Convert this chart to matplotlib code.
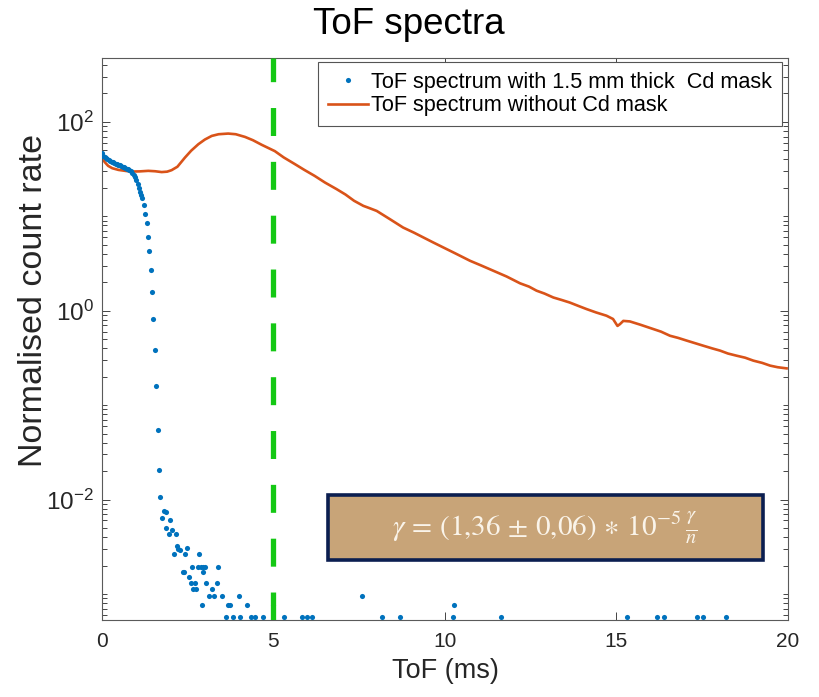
import matplotlib
matplotlib.use("Agg")
import matplotlib.pyplot as plt
from matplotlib.ticker import FixedLocator, FixedFormatter, LogLocator, NullFormatter
from matplotlib.patches import Rectangle

plt.rcParams['font.family'] = ['Liberation Sans', 'DejaVu Sans']

# ---------------- data ----------------
# ToF spectrum without Cd mask (orange line)
tof_nomask = [0.00, 0.08, 0.18, 0.30, 0.48, 0.70, 0.87, 1.10, 1.35, 1.55, 1.74, 1.90,
              2.03, 2.20, 2.42, 2.60, 2.81, 3.00, 3.20, 3.40, 3.68, 3.90, 4.17, 4.40,
              4.66, 5.04, 5.30, 5.63, 5.90, 6.20, 6.50, 6.84, 7.10, 7.35, 7.62, 7.80,
              8.01, 8.40, 8.78, 9.10, 9.37, 9.65, 9.95, 10.30, 10.73, 11.05, 11.41,
              11.80, 12.19, 12.45, 12.67, 12.90, 13.16, 13.40, 13.64, 13.90, 14.13,
              14.40, 14.71, 14.90, 15.03, 15.10, 15.20, 15.39, 15.70, 16.07, 16.30,
              16.56, 16.80, 17.05, 17.30, 17.53, 17.80, 18.02, 18.25, 18.50, 18.75,
              18.99, 19.25, 19.48, 19.70, 19.96]
rate_nomask = [42.0, 37.5, 34.2, 32.3, 31.0, 30.2, 29.8, 29.9, 30.3, 30.0, 29.4, 29.7,
               30.8, 33.5, 41.9, 49.5, 58.0, 65.0, 71.0, 74.0, 75.2, 74.0, 69.3, 64.0,
               57.1, 49.0, 42.0, 35.6, 31.0, 26.8, 22.8, 19.4, 17.0, 14.6, 12.9, 12.2,
               11.4, 9.3, 7.6, 6.7, 5.97, 5.30, 4.68, 4.05, 3.38, 3.02, 2.65,
               2.30, 1.95, 1.80, 1.63, 1.52, 1.38, 1.30, 1.22, 1.12, 1.04,
               0.96, 0.885, 0.817, 0.69, 0.72, 0.78, 0.77, 0.71, 0.64, 0.60,
               0.543, 0.515, 0.482, 0.452, 0.426, 0.398, 0.378, 0.352, 0.334, 0.318,
               0.296, 0.280, 0.262, 0.252, 0.245]

# ToF spectrum with 1.5 mm thick Cd mask (blue dots)
tof_mask = [0.00, 0.04, 0.08, 0.12, 0.16, 0.20, 0.24, 0.28, 0.32, 0.36, 0.40, 0.44,
            0.48, 0.52, 0.56, 0.60, 0.64, 0.68, 0.72, 0.76, 0.80, 0.84, 0.88, 0.92,
            0.96, 1.00, 1.04, 1.08, 1.11, 1.14, 1.18, 1.22, 1.26, 1.30, 1.34, 1.38,
            1.42, 1.46, 1.50, 1.55, 1.58, 1.62, 1.66, 1.70,
            1.75, 1.81, 1.87, 1.98, 1.87, 1.94, 2.05, 2.15, 2.18, 2.23, 2.27, 2.11,
            2.43, 2.49, 2.82, 2.35, 2.40, 2.63, 2.79, 2.89, 2.95, 3.00, 2.94, 3.38,
            2.54, 2.59, 2.71, 3.03, 3.34, 2.66, 2.74, 3.20, 3.11, 3.27, 3.51, 3.99,
            2.92, 3.66, 3.73, 4.23, 5.00, 3.62, 3.83, 4.03, 4.35, 4.46, 4.69, 5.31,
            5.82, 5.99, 6.13, 7.57, 8.16, 8.68, 10.22, 10.25, 11.64, 15.30, 16.17,
            16.39, 17.35, 17.51, 18.18]
rate_mask = [46.5, 44.0, 42.5, 41.3, 40.3, 39.4, 38.6, 37.9, 37.3, 36.7, 36.1, 35.6,
             35.1, 34.6, 34.1, 33.6, 33.1, 32.6, 32.0, 31.4, 30.8, 30.0, 29.0, 27.6,
             25.9, 24.0, 21.8, 19.7, 17.9, 16.7, 15.6, 13.2, 10.7, 8.4, 6.07, 4.25,
             2.72, 1.58, 0.823, 0.380, 0.158, 0.0551, 0.0206, 0.01075,
             6.3e-3, 7.5e-3, 7.3e-3, 6.0e-3, 5.0e-3, 4.3e-3, 4.7e-3, 4.3e-3, 3.2e-3, 3.0e-3, 2.9e-3, 2.64e-3,
             2.66e-3, 3.05e-3, 2.66e-3, 1.70e-3, 1.70e-3, 1.92e-3, 1.92e-3, 1.92e-3, 1.92e-3, 1.92e-3, 1.70e-3, 1.92e-3,
             1.52e-3, 1.32e-3, 1.32e-3, 1.32e-3, 1.32e-3, 1.14e-3, 1.14e-3, 1.14e-3, 9.5e-4, 9.5e-4, 9.5e-4, 9.5e-4,
             7.6e-4, 7.6e-4, 7.6e-4, 7.6e-4, 7.6e-4, 5.7e-4, 5.7e-4, 5.7e-4, 5.7e-4, 5.7e-4, 5.7e-4, 5.7e-4,
             5.7e-4, 5.7e-4, 5.7e-4, 9.5e-4, 5.7e-4, 5.7e-4, 5.7e-4, 7.6e-4, 5.7e-4, 5.7e-4, 5.7e-4,
             5.7e-4, 5.7e-4, 5.7e-4, 5.7e-4]

cut_time = 5.0
xticks = [0, 5, 10, 15, 20]
yticks = [1e-2, 1e0, 1e2]
ytick_labels = [r'$\mathregular{10^{-2}}$', r'$\mathregular{10^{0}}$', r'$\mathregular{10^{2}}$']
label_mask = 'ToF spectrum with 1.5 mm thick  Cd mask'
label_nomask = 'ToF spectrum without Cd mask'
title = 'ToF spectra'
xlabel = 'ToF (ms)'
ylabel = 'Normalised count rate'
annotation = r'$\gamma\, =\, (1{,}36\, \pm\, 0{,}06)\, \ast\, 10^{-5}\,\frac{\gamma}{n}$'

# ---------------- plot ----------------
fig = plt.figure(figsize=(8.19, 6.97), dpi=100)
ax = fig.add_axes([0.1245, 0.1105, 0.8376, 0.8063])

ax.plot(tof_mask, rate_mask, linestyle='none', marker='o', markersize=3.7,
        markeredgewidth=0, color='#0072BD', label=label_mask, zorder=3)
ax.plot(tof_nomask, rate_nomask, color='#D95319', linewidth=1.9,
        label=label_nomask, zorder=2)
ax.axvline(cut_time, color='#14C814', linewidth=3.8, dashes=(5.3, 4.9), zorder=4)

ax.set_yscale('log')
ax.set_xlim(0, 20)
ax.set_ylim(5.3e-4, 475)

ax.xaxis.set_major_locator(FixedLocator(xticks))
ax.yaxis.set_major_locator(FixedLocator(yticks))
ax.yaxis.set_major_formatter(FixedFormatter(ytick_labels))
ax.yaxis.set_minor_locator(LogLocator(base=10, subs=[1, 2, 3, 4, 5, 6, 7, 8, 9], numticks=50))
ax.yaxis.set_minor_formatter(NullFormatter())

ax.tick_params(which='both', direction='in', top=True, right=True,
               colors='#262626', width=0.6)
ax.tick_params(axis='x', labelsize=15)
ax.tick_params(axis='y', labelsize=17.5)
ax.tick_params(which='major', length=6)
ax.tick_params(which='minor', length=3.5)
ax.tick_params(axis='x', pad=9)
ax.tick_params(axis='y', pad=6)
for s in ax.spines.values():
    s.set_color('#5a5a5a')
    s.set_linewidth(0.8)

ax.set_title(title, fontsize=26.5, color='black', x=0.4475, y=1.0, pad=17)
ax.set_xlabel(xlabel, fontsize=19.5, color='#262626', labelpad=5)
ax.set_ylabel(ylabel, fontsize=24.5, color='#262626')
ax.yaxis.set_label_coords(-0.077, 0.569)

leg = ax.legend(loc='upper right', bbox_to_anchor=(0.991, 0.993), borderaxespad=0,
                fontsize=15.6, frameon=True, fancybox=False, framealpha=1,
                handlelength=1.85, handletextpad=0.15, borderpad=0.45,
                labelspacing=0.12, markerscale=1.0)
leg.get_frame().set_edgecolor('#555555')
leg.get_frame().set_linewidth(0.8)

ax.add_patch(Rectangle((0.329, 0.107), 0.635, 0.115, transform=ax.transAxes,
                       facecolor='#C8A478', edgecolor='#0B1E50', linewidth=2.6, zorder=5))
ax.text(0.646, 0.163, annotation, transform=ax.transAxes, ha='center', va='center',
        fontsize=21, color='#FAF4EA', math_fontfamily='stix', zorder=6)

fig.savefig('out.png', dpi=100)
